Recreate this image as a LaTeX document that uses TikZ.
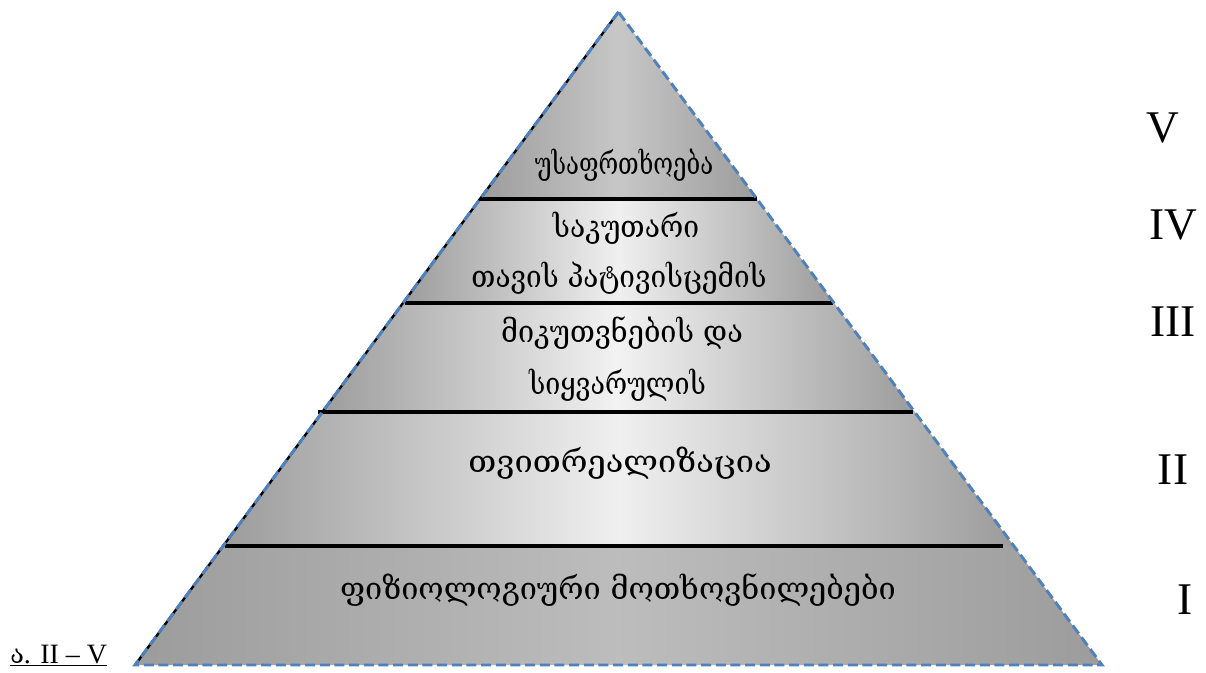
\documentclass[tikz,border=0pt]{standalone}
\usepackage{fontspec}
\usepackage{graphicx}
\setmainfont{Liberation Serif}
\newfontfamily\geo{DejaVu Serif}
\definecolor{edgeblue}{HTML}{4F81BD}
\definecolor{bandgray}{HTML}{9C9C9C}
\newcommand{\sq}[2]{\scalebox{#1}[1]{#2}}
\begin{document}
\begin{tikzpicture}[x=0.75pt,y=-0.75pt,
  geotext/.style={font=\geo\fontsize{23}{26}\selectfont, inner sep=0pt, anchor=center},
  roman/.style={font=\fontsize{34}{36}\selectfont, inner sep=0pt, anchor=center},
  divider/.style={line width=2.8pt, black},
  outline/.style={draw=edgeblue, line width=2.2pt, dash pattern=on 7.5pt off 3.5pt}]
\useasboundingbox (0,0) rectangle (1206,673);
\coordinate (apex) at (618.5,12);
\coordinate (bl) at (135,665);
\coordinate (br) at (1102,665);
% band fills
\begin{scope}
\clip (apex) -- (bl) -- (br) -- cycle;
\shade[left color=bandgray, right color=bandgray, middle color=black!22] (480,0) rectangle (757,199);
\shade[left color=bandgray, right color=bandgray, middle color=black!6] (403,199) rectangle (834,303);
\shade[left color=bandgray, right color=bandgray, middle color=black!5] (320,303) rectangle (915,412);
\shade[left color=bandgray, right color=bandgray, middle color=black!6] (223,412) rectangle (1014,546);
\shade[left color=bandgray, right color=bandgray, middle color=black!26] (135,546) rectangle (1102,665);
\end{scope}
% dividers
\coordinate (d1l) at (480,199); \coordinate (d1r) at (757,199);
\coordinate (d2l) at (405,303); \coordinate (d2r) at (833,303);
\coordinate (d3l) at (318,412); \coordinate (d3r) at (913,412);
\coordinate (d4l) at (225,546); \coordinate (d4r) at (1003,546);
\draw[divider] (d1l) -- (d1r);
\draw[divider] (d2l) -- (d2r);
\draw[divider] (d3l) -- (d3r);
\draw[divider] (d4l) -- (d4r);
% outline
\draw[black, line width=1.8pt] (apex) -- (bl);
\draw[outline] (apex) -- (bl) -- (br) -- cycle;
% texts
\node[geotext] (t5) at (624,165) {\sq{0.78}{უსაფრთხოება}};
\node[geotext] (t4a) at (626,228) {\sq{0.92}{საკუთარი}};
\node[geotext] (t4b) at (619,278) {\sq{0.91}{თავის პატივისცემის}};
\node[geotext] (t3a) at (622,333) {\sq{0.94}{მიკუთვნების და}};
\node[geotext] (t3b) at (617.5,385) {\sq{0.875}{სიყვარულის}};
\node[geotext] (t2) at (620,463) {\sq{1.06}{თვითრეალიზაცია}};
\node[geotext] (t1) at (618,590) {ფიზიოლოგიური მოთხოვნილებები};
% roman numerals
\node[roman] (rV) at (1163,128) {V};
\node[roman] (rIV) at (1173,225) {IV};
\node[roman] (rIII) at (1173,322) {III};
\node[roman] (rII) at (1173,470) {II};
\node[roman] (rI) at (1185,600) {I};
% caption
\node[font=\fontsize{21}{24}\selectfont, inner sep=0pt, anchor=base west] (cap) at (10,663) {\underline{{\geo\fontsize{19}{24}\selectfont ა}. II – V}};
\end{tikzpicture}
\end{document}
